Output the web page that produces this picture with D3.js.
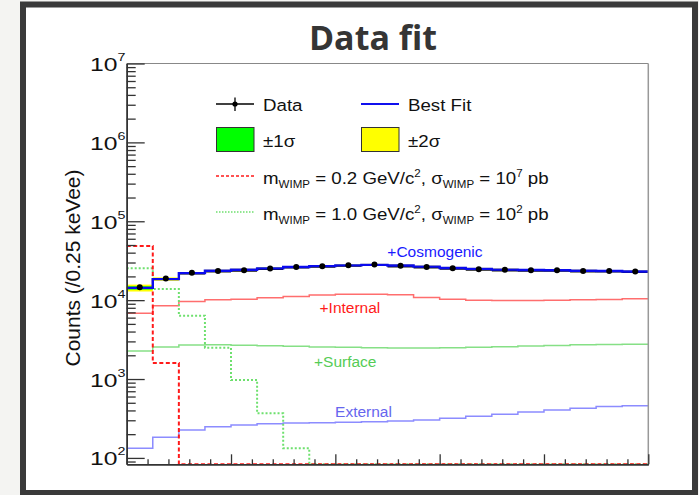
<!DOCTYPE html>
<html>
<head>
<meta charset="utf-8">
<script src="https://cdn.jsdelivr.net/npm/d3@7"></script>
<style>
  html, body { margin: 0; padding: 0; background: #f4f4f2; }
  svg { display: block; }
  text { font-family: "Liberation Sans", Arial, Helvetica, sans-serif; }
</style>
</head>
<body>
<svg id="chart" width="699" height="495"></svg>
<script>
// Energy bins (keVee), 0.25 keVee wide
const binEdges = [0, 0.25, 0.5, 0.75, 1.0, 1.25, 1.5, 1.75, 2.0, 2.25, 2.5,
                  2.75, 3.0, 3.25, 3.5, 3.75, 4.0, 4.25, 4.5, 4.75, 5.0];

// Observed counts per bin
const dataCounts = [14600, 18800, 22200, 23500, 24000, 25200, 26400, 26900, 27700, 28300,
                    27200, 26400, 25400, 24700, 24200, 24000, 24000, 23500, 23500, 23100];

// Best-fit total background
const bestFit = [14300, 18500, 22000, 23600, 24300, 25300, 26300, 27000, 27600, 28000,
                 27500, 26600, 25600, 24900, 24400, 24100, 23900, 23600, 23400, 23100];

// Relative uncertainty of the best fit (1 sigma and 2 sigma)
const sigma1Rel = [0.05, 0.025, 0.015, 0.015, 0.015, 0.015, 0.015, 0.015, 0.015, 0.015,
                   0.015, 0.015, 0.015, 0.015, 0.015, 0.015, 0.015, 0.015, 0.015, 0.015];
const sigma2Rel = [0.10, 0.05, 0.03, 0.03, 0.03, 0.03, 0.03, 0.03, 0.03, 0.03,
                   0.03, 0.03, 0.03, 0.03, 0.03, 0.03, 0.03, 0.03, 0.03, 0.03];

// Stacked background components
const internalStack = [6840, 8470, 9600, 10100, 10300, 10700, 11100, 11600, 11900, 11900,
                       11700, 10800, 10300, 10000, 9900, 9900, 10000, 10100, 10200, 10400];
const surfaceStack = [2270, 2540, 2700, 2730, 2690, 2640, 2600, 2540, 2520, 2490,
                      2470, 2470, 2490, 2520, 2560, 2620, 2670, 2720, 2750, 2770];
const externalOnly = [133, 183, 226, 248, 262, 272, 278, 279, 283, 288,
                      294, 303, 318, 337, 357, 382, 405, 426, 447, 459];

// Signal hypotheses
const wimp02 = [48500, 1600, 0, 0, 0, 0, 0, 0, 0, 0, 0, 0, 0, 0, 0, 0, 0, 0, 0, 0];
const wimp10 = [25400, 13800, 6330, 2500, 975, 367, 133, 0, 0, 0, 0, 0, 0, 0, 0, 0, 0, 0, 0, 0];

// Axis ticks
const yDecades = [2, 3, 4, 5, 6, 7];
const xMajorTicks = [0, 1, 2, 3, 4, 5];

const svg = d3.select("#chart");

// Slide frame
svg.append("rect")
  .attr("x", 23).attr("y", 4.5).attr("width", 672).attr("height", 488.5)
  .attr("fill", "#ffffff").attr("stroke", "#3a3a3a").attr("stroke-width", 6);

// Title
svg.append("text")
  .attr("x", 373).attr("y", 50)
  .attr("text-anchor", "middle")
  .style("font-family", "'Open Sans', 'Noto Sans', sans-serif")
  .style("font-weight", "700").style("font-size", "34px")
  .attr("fill", "#353535")
  .text("Data fit");

// Plot area
const L = 126.7, R = 648.3, T = 63.5, B = 464.3;
const yMin = 83, yMax = 1e7;
const x = d3.scaleLinear().domain([0, 5]).range([L, R]);
const y = d3.scaleLog().domain([yMin, yMax]).range([B, T]);

svg.append("clipPath").attr("id", "plotClip")
  .append("rect").attr("x", L).attr("y", T).attr("width", R - L).attr("height", B - T);

const plot = svg.append("g").attr("clip-path", "url(#plotClip)");

function stepPoints(vals) {
  const pts = [];
  vals.forEach((v, i) => {
    const yy = y(Math.max(v, yMin));
    pts.push([x(binEdges[i]), yy], [x(binEdges[i + 1]), yy]);
  });
  return pts;
}
const line = d3.line();

// Uncertainty bands
function band(rel, color) {
  plot.append("g").selectAll("rect")
    .data(bestFit)
    .join("rect")
    .attr("x", (d, i) => x(binEdges[i]))
    .attr("width", (d, i) => x(binEdges[i + 1]) - x(binEdges[i]))
    .attr("y", (d, i) => y(d * (1 + rel[i])))
    .attr("height", (d, i) => y(d * (1 - rel[i])) - y(d * (1 + rel[i])))
    .attr("fill", color);
}
band(sigma2Rel, "#ffff00");
band(sigma1Rel, "#00ff00");

// Background components
plot.append("path").attr("d", line(stepPoints(externalOnly)))
  .attr("fill", "none").attr("stroke", "#8c8cff").attr("stroke-width", 1.5);
plot.append("path").attr("d", line(stepPoints(surfaceStack)))
  .attr("fill", "none").attr("stroke", "#86e086").attr("stroke-width", 1.5);
plot.append("path").attr("d", line(stepPoints(internalStack)))
  .attr("fill", "none").attr("stroke", "#ff6e6e").attr("stroke-width", 1.5);

// Signal hypotheses
plot.append("path").attr("d", line(stepPoints(wimp10)))
  .attr("fill", "none").attr("stroke", "#6ee06e").attr("stroke-width", 2)
  .attr("stroke-dasharray", "2,2");
plot.append("path").attr("d", line(stepPoints(wimp02)))
  .attr("fill", "none").attr("stroke", "#ff1a1a").attr("stroke-width", 2)
  .attr("stroke-dasharray", "4,2.5");

// Data horizontal bin bars
plot.append("g").selectAll("line")
  .data(dataCounts)
  .join("line")
  .attr("x1", (d, i) => x(binEdges[i])).attr("x2", (d, i) => x(binEdges[i + 1]))
  .attr("y1", d => y(d) + 0.8).attr("y2", d => y(d) + 0.8)
  .attr("stroke", "#111").attr("stroke-width", 1.6);

// Best fit
plot.append("path").attr("d", line(stepPoints(bestFit)))
  .attr("fill", "none").attr("stroke", "#0a0aee").attr("stroke-width", 2.4);

// Data points
plot.append("g").selectAll("circle")
  .data(dataCounts)
  .join("circle")
  .attr("cx", (d, i) => (x(binEdges[i]) + x(binEdges[i + 1])) / 2)
  .attr("cy", d => y(d))
  .attr("r", 3)
  .attr("fill", "#000");

// Component labels (energy, counts anchor)
const componentLabels = [
  { text: "+Cosmogenic", e: 2.955, c: 35000, color: "#1a1aff" },
  { text: "+Internal",   e: 2.140, c: 6870,  color: "#ff1a1a" },
  { text: "+Surface",    e: 2.095, c: 1430,  color: "#55cc55" },
  { text: "External",    e: 2.270, c: 330,   color: "#6666ee" }
];
svg.append("g").selectAll("text")
  .data(componentLabels)
  .join("text")
  .attr("x", d => x(d.e)).attr("y", d => y(d.c))
  .attr("text-anchor", "middle")
  .style("font-size", "15.5px")
  .attr("fill", d => d.color)
  .text(d => d.text);

// Frame (top and right)
svg.append("line").attr("x1", L).attr("x2", R).attr("y1", T).attr("y2", T)
  .attr("stroke", "#888").attr("stroke-width", 1.2);
svg.append("line").attr("x1", R).attr("x2", R).attr("y1", T).attr("y2", B)
  .attr("stroke", "#999").attr("stroke-width", 1.5);

// Y axis (log): major and minor ticks drawn inward
const yMinor = [];
for (let e = 1; e <= 6; e++) {
  for (let k = 2; k <= 9; k++) {
    const v = k * Math.pow(10, e);
    if (v >= yMin && v <= yMax) yMinor.push(v);
  }
}
const yMajor = yDecades.map(e => Math.pow(10, e));

const yAxisG = svg.append("g").attr("transform", `translate(${L},0)`);
yAxisG.call(d3.axisRight(y).tickValues(yMinor).tickSize(9).tickSizeOuter(0).tickFormat(""));
yAxisG.append("g").call(d3.axisRight(y).tickValues(yMajor).tickSize(18).tickSizeOuter(0).tickFormat(""));
yAxisG.selectAll("path.domain").attr("stroke", "#333").attr("stroke-width", 1.5);
yAxisG.selectAll(".tick line").attr("stroke", "#333").attr("stroke-width", 1.3);

// Y tick labels 10^n
yDecades.forEach(e => {
  const g = svg.append("g")
    .attr("transform", `translate(125.5,${y(Math.pow(10, e)) + 7.5}) scale(1.3,1)`);
  const t = g.append("text").attr("text-anchor", "end")
    .style("font-size", "19px").attr("fill", "#111");
  t.append("tspan").text("10");
  t.append("tspan").attr("dy", -10).style("font-size", "11px").text(String(e));
});

// X axis: ticks pointing up, no labels
const xMinor = d3.range(0, 5.0001, 0.2).filter(v => Math.abs(v - Math.round(v)) > 1e-6);
const xAxisG = svg.append("g").attr("transform", `translate(0,${B})`);
xAxisG.call(d3.axisTop(x).tickValues(xMinor).tickSize(5).tickSizeOuter(0).tickFormat(""));
xAxisG.append("g").call(d3.axisTop(x).tickValues(xMajorTicks).tickSize(10).tickSizeOuter(0).tickFormat(""));
xAxisG.selectAll("path.domain").attr("stroke", "#333").attr("stroke-width", 1.5);
xAxisG.selectAll(".tick line").attr("stroke", "#333").attr("stroke-width", 1.3);

// Y axis title
svg.append("text")
  .attr("transform", "translate(80,268) rotate(-90)")
  .attr("text-anchor", "middle")
  .attr("textLength", 197).attr("lengthAdjust", "spacingAndGlyphs")
  .style("font-size", "20px").attr("fill", "#111")
  .text("Counts (/0.25 keVee)");

// Legend
const leg = svg.append("g");
leg.append("line").attr("x1", 216).attr("x2", 254).attr("y1", 104).attr("y2", 104)
  .attr("stroke", "#000").attr("stroke-width", 1.3);
leg.append("line").attr("x1", 235).attr("x2", 235).attr("y1", 97.5).attr("y2", 111)
  .attr("stroke", "#000").attr("stroke-width", 1.3);
leg.append("circle").attr("cx", 235).attr("cy", 104).attr("r", 2.6).attr("fill", "#000");
leg.append("line").attr("x1", 361).attr("x2", 399).attr("y1", 104).attr("y2", 104)
  .attr("stroke", "#1010ee").attr("stroke-width", 1.8);
leg.append("rect").attr("x", 216.5).attr("y", 127.5).attr("width", 37.5).attr("height", 24)
  .attr("fill", "#00ff00").attr("stroke", "#333").attr("stroke-width", 1);
leg.append("rect").attr("x", 361.5).attr("y", 127.5).attr("width", 37.5).attr("height", 24)
  .attr("fill", "#ffff00").attr("stroke", "#333").attr("stroke-width", 1);
leg.append("line").attr("x1", 216).attr("x2", 254).attr("y1", 176).attr("y2", 176)
  .attr("stroke", "#ff1a1a").attr("stroke-width", 1.5).attr("stroke-dasharray", "3,2");
leg.append("line").attr("x1", 216).attr("x2", 254).attr("y1", 212).attr("y2", 212)
  .attr("stroke", "#6ee06e").attr("stroke-width", 1.5).attr("stroke-dasharray", "1.5,1.5");

function legendText(px, py) {
  return leg.append("g").attr("transform", `translate(${px},${py}) scale(1.1,1)`)
    .append("text").style("font-size", "17px").attr("fill", "#111");
}
legendText(263, 110.5).text("Data");
legendText(408, 110.5).text("Best Fit");
legendText(263, 146.5).text("±1σ");
legendText(408, 146.5).text("±2σ");

function wimpLabel(py, mass, xsExp) {
  const t = legendText(263, py);
  t.append("tspan").text("m");
  t.append("tspan").attr("dy", 4).style("font-size", "10.5px").text("WIMP");
  t.append("tspan").attr("dy", -4).text(` = ${mass} GeV/c`);
  t.append("tspan").attr("dy", -7).style("font-size", "10.5px").text("2");
  t.append("tspan").attr("dy", 7).text(", σ");
  t.append("tspan").attr("dy", 4).style("font-size", "10.5px").text("WIMP");
  t.append("tspan").attr("dy", -4).text(" = 10");
  t.append("tspan").attr("dy", -7).style("font-size", "10.5px").text(String(xsExp));
  t.append("tspan").attr("dy", 7).text(" pb");
}
wimpLabel(184, "0.2", 7);
wimpLabel(219.5, "1.0", 2);
</script>
</body>
</html>
